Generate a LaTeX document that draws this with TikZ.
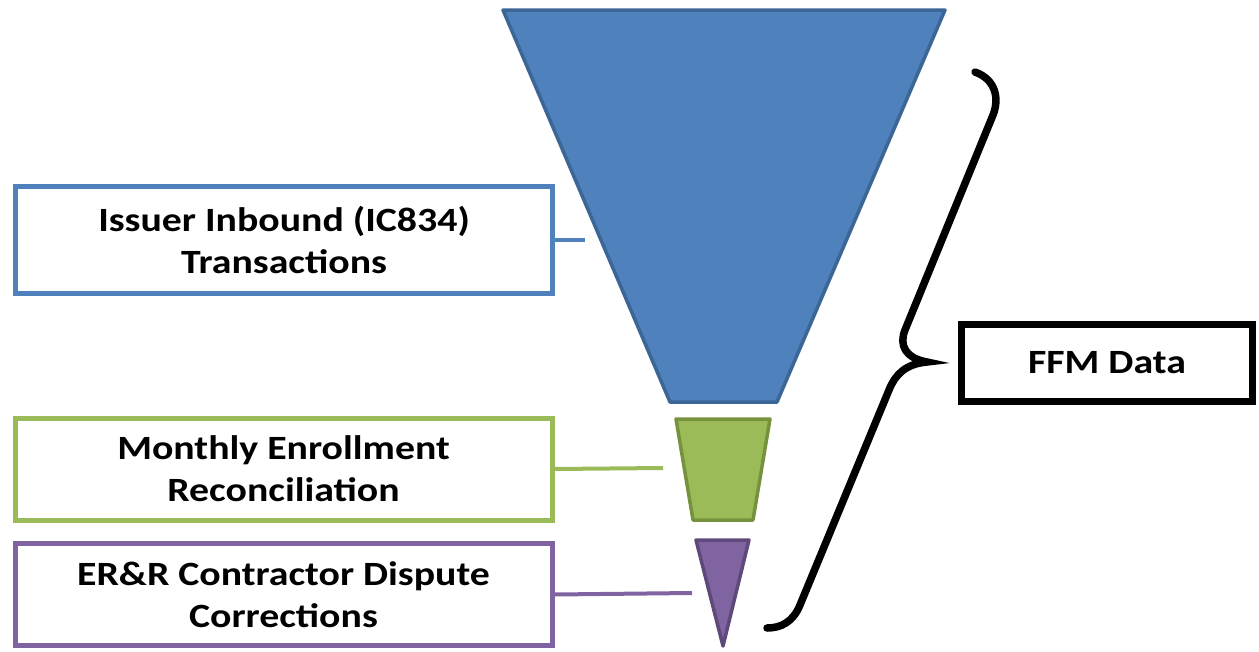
\documentclass[tikz,border=0pt]{standalone}
\usepackage{fontspec}
\setmainfont{Carlito}[FakeStretch=1.17]
\usetikzlibrary{positioning}
\definecolor{fblue}{HTML}{4F81BD}
\definecolor{fbluedark}{HTML}{3C6696}
\definecolor{fgreen}{HTML}{9BBB59}
\definecolor{fgreendark}{HTML}{76923C}
\definecolor{fpurple}{HTML}{8064A2}
\definecolor{fpurpledark}{HTML}{5F497A}
\tikzset{srcbox/.style={draw,line width=5pt,fill=white,align=center,inner sep=0pt,
        minimum width=537pt,minimum height=102pt,font=\bfseries\fontsize{34}{42}\selectfont}}
\tikzset{part/.style={line width=3.5pt,line join=round}}

\begin{document}
\begin{tikzpicture}[x=1pt,y=-1pt]
    \useasboundingbox (0,0) rectangle (1259,651);
    % funnel
    \draw[part,fbluedark,fill=fblue] (503,10) -- (945,10) -- (777,402) -- (670,402) -- cycle;
    \draw[part,fgreendark,fill=fgreen] (676,419) -- (770,419) -- (753,520) -- (693,520) -- cycle;
    \draw[part,fpurpledark,fill=fpurple] (696,540) -- (749,540) -- (723,646) -- cycle;
    % sources
    \node[srcbox,draw=fblue,minimum height=107pt] (issuer) at (284,240) {Issuer Inbound (IC834)\\Transactions};
    \node[srcbox,draw=fgreen] (monthly) at (283.5,469) {Monthly Enrollment\\Reconciliation};
    \node[srcbox,draw=fpurple] (errc) at (283.5,594.5) {ER\&R Contractor Dispute\\Corrections};
    \node[draw,line width=7pt,minimum width=291pt,minimum height=77pt,inner sep=0pt,
          font=\bfseries\fontsize{34}{42}\selectfont] (ffm) at (1107,363) {FFM Data};
    \coordinate (bluetip) at (585,240);
    \coordinate (greentip) at (663,468);
    \coordinate (purpletip) at (692,593);
    \draw[fblue,line width=4pt] (issuer.east) -- (bluetip);
    \draw[fgreen,line width=4pt] (monthly.east) -- (greentip);
    \draw[fpurple,line width=4pt] (errc.east) -- (purpletip);
    % brace
    \draw[line width=7.5pt,line cap=round]
        (975,72) .. controls (997,80) and (999,100) .. (993,115) -- (905,330)
        .. controls (899,345) and (905,358) .. (927,362)
        .. controls (905,364) and (895,375) .. (889,390) -- (800,605)
        .. controls (793,622) and (781,628) .. (767,628);
\end{tikzpicture}
\end{document}
